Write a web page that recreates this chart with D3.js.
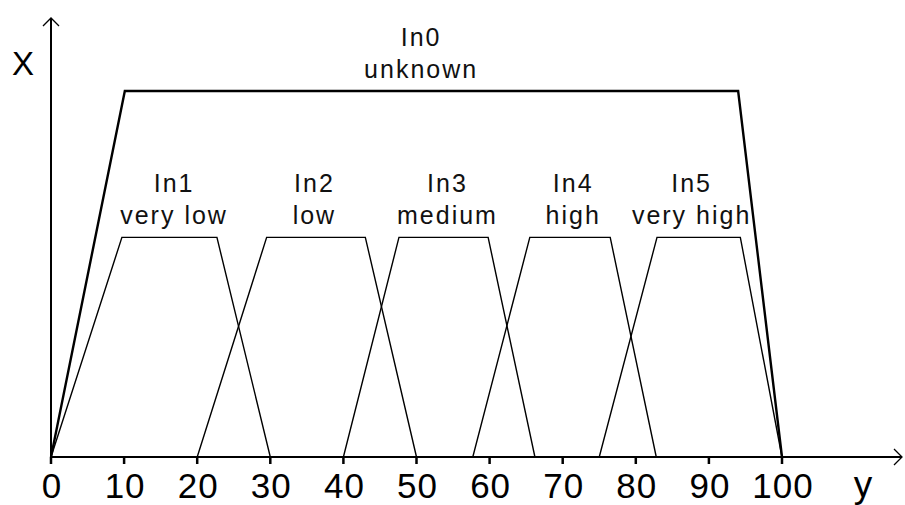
<!DOCTYPE html>
<html>
<head>
<meta charset="utf-8">
<script src="https://cdn.jsdelivr.net/npm/d3@7"></script>
<style>
  body { margin: 0; background: #fff; }
  svg { display: block; }
  text { font-family: "Liberation Sans", Arial, sans-serif; fill: #000; }
</style>
</head>
<body>
<svg id="chart" width="905" height="505"></svg>
<script>
// fuzzy sets, corners as [y, membership] going left to right
const setNames = ['In0', 'In1', 'In2', 'In3', 'In4', 'In5'];
const setLabels = ['unknown', 'very low', 'low', 'medium', 'high', 'very high'];
const setPeaks = [1, 0.6, 0.6, 0.6, 0.6, 0.6];
const setCorners = [
  [0, 10.1, 94, 100],
  [0, 9.7, 22.7, 30],
  [20, 29.5, 43, 50],
  [40, 47.6, 59.8, 66.2],
  [57.7, 65.5, 76.5, 82.8],
  [75, 82.9, 94.3, 100]
];
const labelCenters = [50.5, 16.7, 35.9, 54.1, 71.3, 87.5];
const xTicks = [0, 10, 20, 30, 40, 50, 60, 70, 80, 90, 100];

const svg = d3.select('#chart');
const x = d3.scaleLinear().domain([0, 100]).range([51, 782]);
const y = d3.scaleLinear().domain([0, 1]).range([457, 91]);

// axes
const axisY = y(0);
svg.append('line')
  .attr('x1', x(0)).attr('x2', 902)
  .attr('y1', axisY).attr('y2', axisY)
  .attr('stroke', '#000').attr('stroke-width', 2);
svg.append('path')
  .attr('d', `M894,${axisY - 8}L902,${axisY}L894,${axisY + 8}`)
  .attr('fill', 'none').attr('stroke', '#000').attr('stroke-width', 1.3);
svg.append('line')
  .attr('x1', x(0)).attr('x2', x(0))
  .attr('y1', axisY + 6).attr('y2', 18)
  .attr('stroke', '#000').attr('stroke-width', 2);
svg.append('path')
  .attr('d', `M${x(0) - 8},26L${x(0)},18L${x(0) + 8},26`)
  .attr('fill', 'none').attr('stroke', '#000').attr('stroke-width', 1.3);

const ticks = svg.append('g');
ticks.selectAll('line')
  .data(xTicks)
  .join('line')
  .attr('x1', d => x(d)).attr('x2', d => x(d))
  .attr('y1', axisY).attr('y2', axisY + 7)
  .attr('stroke', '#000').attr('stroke-width', 2.5);
ticks.selectAll('text')
  .data(xTicks)
  .join('text')
  .attr('x', d => x(d) + 1)
  .attr('y', 498)
  .attr('text-anchor', 'middle')
  .style('font-size', '35px')
  .style('letter-spacing', '1px')
  .text(d => d);

svg.append('text').attr('x', 23).attr('y', 75)
  .attr('text-anchor', 'middle').style('font-size', '33px').text('X');
svg.append('text').attr('x', 863).attr('y', 497)
  .attr('text-anchor', 'middle').style('font-size', '37px').text('y');

// trapezoids
const line = d3.line().x(d => x(d[0])).y(d => y(d[1]));
const sets = setNames.map((name, i) => ({
  name,
  label: setLabels[i],
  peak: setPeaks[i],
  corners: setCorners[i],
  labelX: labelCenters[i]
}));

const groups = svg.append('g').selectAll('g')
  .data(sets)
  .join('g');

groups.append('path')
  .attr('d', d => line([
    [d.corners[0], 0], [d.corners[1], d.peak],
    [d.corners[2], d.peak], [d.corners[3], 0]
  ]))
  .attr('fill', 'none')
  .attr('stroke', '#000')
  .attr('stroke-width', (d, i) => i === 0 ? 2.4 : 1.4);

groups.append('text')
  .attr('x', d => x(d.labelX) + 1)
  .attr('y', d => y(d.peak) - 45)
  .attr('text-anchor', 'middle')
  .style('font-size', '25px')
  .style('letter-spacing', '2px')
  .style('fill', '#111')
  .text(d => d.name);
groups.append('text')
  .attr('x', d => x(d.labelX) + 1)
  .attr('y', d => y(d.peak) - 13)
  .attr('text-anchor', 'middle')
  .style('font-size', '25px')
  .style('letter-spacing', '2px')
  .style('fill', '#111')
  .text(d => d.label);
</script>
</body>
</html>
